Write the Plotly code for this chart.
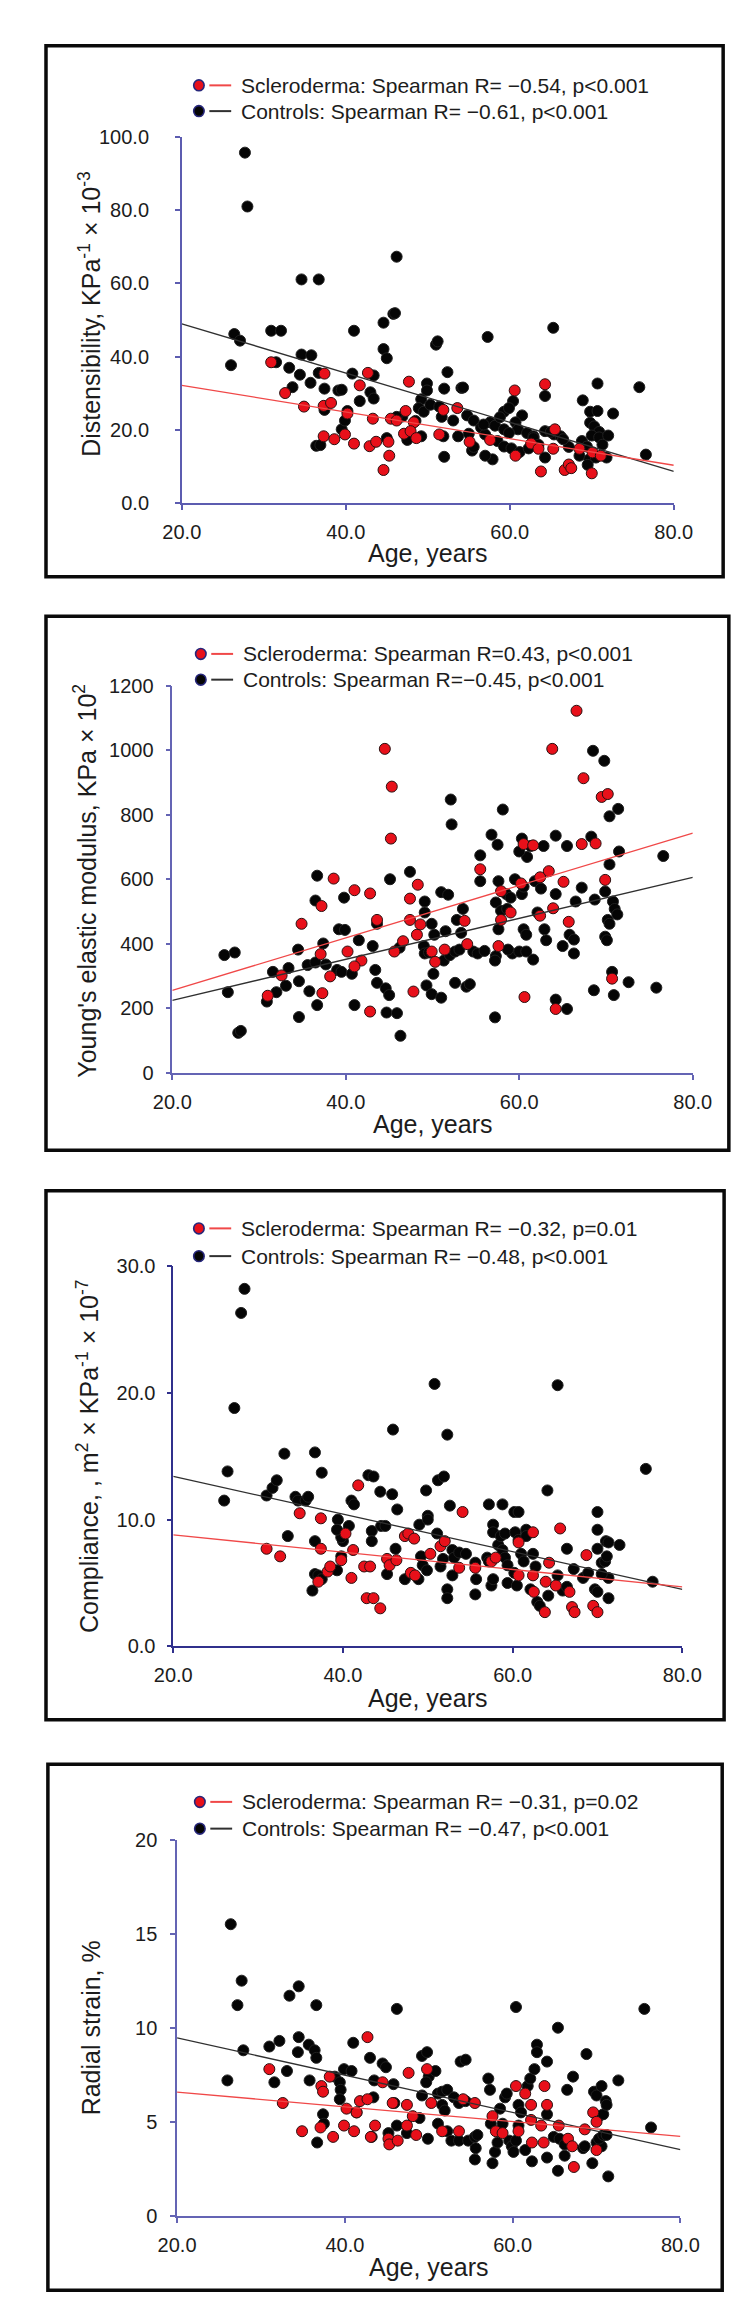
import plotly.graph_objects as go

W, H = 756, 2314
FONT = "Liberation Sans, Arial, Helvetica, sans-serif"

# ---------------- data (age, value) ----------------
# Panel 1: distensibility, KPa^-1 x 10^-3
dist_ctrl = [
    (27.7, 95.7), (28.0, 81.0), (46.2, 67.3), (34.6, 61.1), (36.7, 61.1), (45.8, 51.7),
    (46.0, 51.9), (44.6, 49.3), (65.3, 47.9), (57.3, 45.4), (41.0, 47.1), (30.9, 47.1),
    (32.1, 47.1), (26.4, 46.2), (27.1, 44.4), (51.0, 43.3), (51.2, 44.2), (44.6, 42.1),
    (45.0, 39.6), (34.6, 40.6), (35.8, 40.4), (26.0, 37.7), (31.5, 38.5), (33.1, 37.0),
    (34.4, 35.1), (36.7, 35.6), (40.8, 35.4), (43.4, 34.9), (33.5, 31.7), (35.7, 32.9),
    (37.4, 31.3), (39.1, 30.8), (39.5, 31.0), (43.0, 30.3), (43.4, 28.6), (41.7, 27.9),
    (49.9, 32.7), (49.9, 30.8), (52.0, 31.3), (52.4, 35.8), (54.1, 31.5), (54.3, 31.6),
    (49.2, 28.4), (48.9, 26.0), (49.5, 25.0), (50.3, 26.9), (51.4, 26.4), (51.7, 23.6),
    (53.1, 22.6), (54.8, 24.0), (55.6, 22.6), (56.5, 20.7), (60.4, 27.9), (59.3, 25.0),
    (59.9, 26.0), (61.5, 24.0), (57.6, 22.1), (58.2, 21.2), (60.7, 22.1), (61.0, 20.2),
    (59.3, 20.2), (59.9, 19.2), (57.0, 18.8), (62.1, 19.2), (62.9, 18.3), (64.3, 19.7),
    (65.4, 18.8), (66.2, 18.3), (68.9, 28.1), (70.7, 32.7), (69.8, 25.0), (70.7, 25.2),
    (69.8, 22.0), (70.3, 21.0), (70.9, 19.5), (70.0, 18.5), (70.9, 18.0), (72.6, 24.5),
    (75.8, 31.7), (76.6, 13.3), (64.3, 29.3), (68.8, 17.0), (69.4, 15.5), (68.5, 13.0),
    (69.7, 12.0), (70.5, 12.5), (67.2, 15.4), (64.3, 12.5), (57.9, 12.0), (57.0, 13.0),
    (55.4, 14.4), (55.6, 15.4), (52.0, 12.7), (58.5, 17.0), (59.3, 15.5), (60.2, 15.0),
    (61.2, 14.0), (62.3, 15.0), (49.2, 18.3), (47.5, 17.3), (45.0, 17.8), (36.4, 15.7),
    (36.9, 15.9), (39.5, 20.2), (39.9, 22.6), (40.2, 25.2), (37.4, 25.5), (46.9, 23.7),
    (46.2, 23.6), (53.7, 18.3), (51.9, 18.3), (62.9, 17.8), (71.3, 16.0), (71.8, 12.5),
    (72.0, 18.5), (69.5, 10.5), (65.0, 19.5), (66.5, 17.5), (63.5, 16.0), (56.8, 21.5),
    (58.8, 23.5), (55.0, 19.0), (48.5, 22.5),
]
dist_scl = [
    (30.9, 38.5), (32.6, 30.1), (34.9, 26.4), (37.4, 35.4), (37.3, 26.6), (38.2, 27.4),
    (37.3, 18.3), (38.6, 17.5), (39.9, 18.8), (40.2, 24.5), (41.0, 16.3), (41.7, 32.2),
    (42.7, 35.6), (42.9, 15.6), (43.3, 23.1), (43.7, 16.8), (44.6, 9.1), (45.3, 13.0),
    (45.2, 16.8), (45.5, 23.1), (46.2, 22.6), (47.3, 25.2), (47.7, 33.2), (48.3, 22.1),
    (47.1, 19.0), (47.9, 19.7), (48.6, 17.8), (51.9, 25.5), (53.6, 26.0), (51.4, 18.8),
    (55.1, 16.8), (57.6, 17.3), (60.6, 30.8), (60.7, 13.0), (62.6, 16.3), (63.5, 14.9),
    (63.8, 8.7), (64.3, 32.5), (65.5, 20.2), (65.3, 14.9), (66.7, 9.1), (67.2, 10.6),
    (67.5, 9.6), (68.5, 14.9), (70.0, 8.2), (70.1, 13.9), (71.1, 13.0),
]
dist_fit_age = [20.0, 80.0]
dist_fit_scl = [32.2, 10.4]
dist_fit_ctrl = [49.0, 8.7]

# Panel 2: Young's elastic modulus, KPa x 10^2
young_ctrl = [
    (26.0, 365), (27.2, 373), (26.4, 250), (27.6, 124), (27.9, 130), (31.6, 313),
    (30.9, 221), (32.0, 250), (33.1, 270), (33.4, 325), (34.5, 382), (34.6, 284),
    (34.6, 173), (35.8, 253), (35.6, 334), (36.7, 210), (36.5, 342), (36.5, 534),
    (36.7, 611), (37.4, 401), (37.7, 336), (39.0, 319), (39.5, 313), (39.2, 445),
    (39.9, 443), (39.8, 543), (40.7, 307), (41.0, 210), (41.5, 411), (43.1, 393),
    (43.4, 319), (43.6, 279), (43.6, 462), (44.6, 262), (45.0, 241), (44.7, 187),
    (45.1, 600), (45.9, 185), (46.3, 115), (46.2, 388), (47.4, 623), (49.1, 531),
    (49.1, 497), (49.0, 393), (49.3, 271), (49.9, 244), (49.1, 370), (49.6, 373),
    (50.1, 307), (49.9, 462), (50.2, 428), (51.0, 233), (51.0, 560), (51.8, 552),
    (52.1, 847), (52.2, 770), (51.5, 439), (51.3, 348), (52.0, 365), (52.6, 376),
    (53.1, 382), (52.6, 279), (52.8, 474), (53.3, 434), (53.5, 508), (53.9, 267),
    (54.3, 275), (54.7, 376), (55.2, 370), (55.5, 674), (55.5, 594), (56.8, 738),
    (57.5, 707), (57.6, 594), (57.3, 362), (57.2, 172), (57.3, 528), (57.6, 445),
    (57.9, 502), (58.1, 816), (58.5, 554), (58.6, 508), (59.0, 543), (59.2, 370),
    (58.7, 382), (59.5, 600), (60.3, 726), (60.9, 669), (60.0, 686), (60.3, 554),
    (60.5, 577), (60.5, 445), (60.8, 428), (60.0, 376), (60.8, 376), (61.6, 351),
    (61.3, 703), (61.8, 594), (62.1, 497), (62.5, 571), (62.8, 703), (62.9, 445),
    (63.1, 411), (64.2, 554), (64.2, 735), (64.2, 227), (65.0, 393), (65.5, 703),
    (65.5, 198), (65.8, 428), (66.3, 413), (66.3, 370), (66.5, 531), (67.2, 574),
    (68.3, 732), (68.6, 256), (68.5, 998), (68.7, 537), (69.8, 967), (69.9, 562),
    (69.9, 422), (70.1, 411), (70.2, 474), (70.4, 462), (70.4, 795), (70.4, 646),
    (70.7, 313), (70.9, 241), (70.8, 531), (71.0, 508), (71.3, 491), (71.4, 818),
    (71.5, 686), (72.6, 281), (75.8, 264), (76.6, 672), (57.2, 348), (56.0, 378),
]
young_scl = [
    (44.5, 1004), (63.8, 1004), (66.6, 1122), (45.3, 887), (67.4, 913), (45.2, 726),
    (69.5, 855), (70.2, 864), (67.2, 709), (68.8, 711), (60.5, 709), (61.6, 705),
    (55.5, 631), (63.4, 625), (62.4, 606), (65.1, 592), (69.9, 598), (57.9, 563),
    (60.2, 587), (38.6, 602), (41.0, 566), (42.8, 556), (48.3, 583), (47.4, 540),
    (37.2, 517), (34.9, 462), (43.6, 474), (47.4, 474), (48.6, 460), (53.7, 471),
    (57.9, 474), (59.0, 497), (63.9, 510), (62.4, 487), (65.7, 468), (48.2, 428),
    (54.0, 399), (57.6, 393), (37.1, 368), (40.2, 376), (46.6, 408), (45.6, 376),
    (49.9, 376), (50.3, 344), (51.4, 382), (41.8, 348), (41.0, 330), (38.2, 299),
    (32.6, 302), (31.0, 239), (37.3, 247), (47.8, 252), (42.8, 190), (60.6, 235),
    (64.2, 198), (70.7, 292),
]
young_fit_age = [20.0, 80.0]
young_fit_scl = [256, 743]
young_fit_ctrl = [225, 606]

# Panel 3: compliance, m^2 x KPa^-1 x 10^-7
comp_ctrl = [
    (28.4, 28.2), (28.0, 26.3), (27.2, 18.8), (26.4, 13.8), (26.0, 11.5), (31.0, 11.9),
    (31.7, 12.5), (32.2, 13.1), (33.1, 15.2), (34.4, 11.8), (34.7, 11.5), (35.6, 11.5),
    (35.9, 11.8), (36.7, 15.3), (37.5, 13.7), (33.5, 8.7), (36.7, 8.3), (36.7, 5.7),
    (37.1, 5.6), (37.5, 5.3), (36.4, 4.4), (39.4, 10.0), (40.0, 8.3), (39.8, 8.6),
    (39.3, 9.2), (39.8, 7.1), (39.3, 6.0), (40.7, 9.5), (41.0, 11.5), (41.3, 11.2),
    (43.0, 13.5), (43.6, 13.4), (43.4, 9.1), (43.4, 8.3), (44.4, 12.2), (44.5, 9.5),
    (45.0, 9.5), (45.8, 12.0), (45.9, 17.1), (46.2, 7.7), (46.4, 10.8), (45.2, 5.7),
    (47.3, 5.3), (48.9, 5.3), (49.2, 7.1), (49.4, 6.4), (49.0, 9.6), (49.8, 12.3),
    (50.0, 10.3), (50.0, 10.0), (49.9, 6.0), (50.8, 20.7), (51.1, 8.9), (51.2, 13.1),
    (51.9, 13.4), (52.3, 16.7), (51.5, 6.3), (51.8, 6.9), (52.9, 7.6), (52.3, 4.5),
    (52.3, 3.8), (52.6, 11.1), (53.1, 7.0), (53.7, 7.4), (54.5, 7.3), (52.9, 5.6),
    (55.6, 4.1), (55.7, 5.3), (55.6, 6.6), (57.0, 7.0), (57.2, 6.7), (57.2, 11.2),
    (57.7, 9.6), (57.7, 9.0), (57.5, 4.8), (57.7, 5.3), (58.3, 8.0), (58.8, 7.6),
    (58.6, 8.7), (59.1, 8.9), (58.8, 11.2), (59.1, 7.0), (59.4, 6.4), (59.4, 5.0),
    (60.2, 10.6), (60.7, 10.6), (60.3, 9.0), (60.7, 8.4), (60.2, 5.8), (60.5, 4.8),
    (61.0, 7.3), (61.3, 6.7), (61.6, 9.2), (61.6, 8.7), (62.1, 4.5), (62.4, 7.3),
    (62.7, 6.3), (62.9, 3.5), (63.2, 3.2), (64.1, 12.3), (64.2, 4.0), (65.3, 20.6),
    (65.3, 5.6), (65.9, 4.4), (66.4, 7.7), (66.4, 4.7), (67.2, 6.1), (68.3, 5.4),
    (68.9, 5.8), (70.0, 10.6), (70.0, 9.2), (70.0, 7.7), (69.7, 4.5), (70.0, 4.3),
    (70.5, 6.6), (70.9, 6.7), (71.0, 8.3), (71.3, 8.2), (71.1, 7.1), (71.3, 5.4),
    (71.3, 3.8), (70.5, 5.7), (72.6, 8.0), (75.7, 14.0), (76.5, 5.1),
]
comp_scl = [
    (34.9, 10.5), (31.0, 7.7), (32.6, 7.1), (37.4, 10.1), (37.4, 7.7), (37.1, 5.1),
    (38.2, 5.9), (38.5, 6.3), (39.8, 6.8), (40.3, 8.9), (41.2, 7.6), (41.0, 5.4),
    (41.8, 12.7), (42.5, 6.3), (43.2, 6.3), (42.8, 3.8), (43.6, 3.8), (44.4, 3.0),
    (45.2, 6.9), (45.5, 6.4), (46.3, 6.8), (47.3, 8.7), (47.7, 8.9), (48.4, 8.5),
    (48.0, 5.8), (48.5, 5.6), (50.3, 7.3), (51.5, 7.9), (52.0, 8.3), (54.1, 10.6),
    (53.7, 6.2), (55.6, 6.2), (57.5, 6.7), (58.0, 7.0), (60.7, 8.2), (60.7, 5.6),
    (62.4, 9.0), (62.4, 5.6), (62.5, 4.3), (63.9, 5.1), (63.8, 2.7), (64.3, 6.6),
    (65.6, 9.3), (65.1, 4.8), (66.7, 4.3), (67.0, 3.1), (67.3, 2.7), (68.7, 7.2),
    (69.5, 3.2), (70.0, 2.7),
]
comp_fit_age = [20.0, 80.0]
comp_fit_scl = [8.8, 4.7]
comp_fit_ctrl = [13.4, 4.5]

# Panel 4: radial strain, %
strain_ctrl = [
    (26.4, 15.5), (27.2, 11.2), (27.7, 12.5), (27.9, 8.8), (26.0, 7.2), (31.0, 9.0),
    (32.2, 9.3), (31.6, 7.1), (33.1, 7.7), (33.4, 11.7), (34.5, 12.2), (34.5, 9.5),
    (34.4, 8.7), (35.7, 9.1), (35.8, 7.2), (36.4, 8.8), (36.6, 8.4), (36.6, 11.2),
    (37.4, 5.4), (37.5, 4.9), (36.7, 3.9), (38.8, 7.4), (39.4, 7.1), (39.5, 6.7),
    (39.4, 6.2), (39.9, 7.8), (40.8, 7.7), (41.0, 9.2), (41.4, 5.5), (43.0, 8.4),
    (43.4, 6.3), (43.5, 7.2), (43.2, 4.2), (44.5, 8.1), (44.9, 7.9), (45.2, 4.4),
    (45.8, 7.0), (46.2, 11.0), (45.9, 6.0), (46.2, 4.8), (47.4, 4.4), (48.9, 5.2),
    (49.2, 6.4), (49.2, 8.5), (49.8, 8.7), (50.0, 7.4), (49.7, 7.1), (49.9, 4.1),
    (50.8, 7.7), (51.1, 6.5), (51.6, 6.6), (51.1, 4.9), (51.6, 5.9), (51.9, 5.6),
    (52.2, 6.7), (52.2, 4.5), (52.7, 4.0), (53.0, 6.3), (53.6, 6.0), (53.8, 8.2),
    (54.4, 8.3), (54.4, 6.1), (53.6, 4.0), (54.7, 4.0), (55.5, 4.2), (55.6, 3.6),
    (55.5, 3.0), (55.8, 4.3), (57.1, 7.3), (57.3, 6.7), (57.4, 4.9), (57.6, 2.8),
    (57.9, 3.4), (58.2, 3.9), (58.5, 5.7), (58.8, 4.9), (59.1, 6.3), (59.3, 6.5),
    (59.6, 4.0), (59.9, 3.7), (60.1, 3.4), (60.4, 4.0), (60.4, 11.1), (60.7, 5.9),
    (61.0, 5.5), (60.7, 4.8), (61.5, 3.5), (61.8, 6.9), (62.1, 7.3), (62.3, 2.9),
    (62.6, 7.8), (62.9, 9.1), (62.9, 8.7), (64.1, 8.2), (64.1, 5.4), (64.1, 3.1),
    (64.9, 4.2), (65.4, 10.0), (65.4, 2.4), (65.6, 4.1), (66.2, 3.8), (66.2, 3.2),
    (66.5, 6.7), (67.2, 7.4), (68.4, 3.6), (68.6, 3.7), (68.8, 8.6), (69.5, 2.8),
    (69.7, 6.6), (70.0, 6.4), (70.6, 6.9), (70.3, 5.3), (70.8, 5.4), (70.0, 3.9),
    (70.6, 3.7), (70.3, 4.1), (70.8, 4.3), (71.1, 6.1), (71.2, 5.9), (71.4, 2.1),
    (71.2, 4.3), (72.6, 7.2), (75.7, 11.0), (76.5, 4.7),
]
strain_scl = [
    (42.7, 9.5), (31.0, 7.8), (32.6, 6.0), (34.9, 4.5), (37.2, 6.9), (37.4, 6.6),
    (37.1, 4.7), (38.2, 7.4), (38.6, 4.2), (39.9, 4.8), (40.2, 5.7), (41.1, 4.5),
    (41.4, 5.5), (41.8, 6.1), (42.7, 6.2), (43.1, 4.2), (43.6, 4.8), (44.5, 7.1),
    (45.2, 4.1), (45.3, 3.8), (46.3, 4.0), (45.7, 6.0), (47.4, 5.9), (47.6, 7.6),
    (47.4, 4.8), (48.1, 5.3), (48.5, 4.3), (49.8, 7.8), (50.3, 6.0), (51.6, 4.5),
    (53.6, 4.5), (54.1, 6.2), (55.5, 6.0), (57.6, 5.3), (58.0, 4.5), (58.8, 4.4),
    (60.4, 6.9), (60.7, 4.5), (61.5, 6.5), (62.2, 5.9), (62.2, 5.1), (62.3, 3.9),
    (63.7, 3.9), (63.4, 4.8), (63.8, 6.9), (64.1, 5.9), (65.5, 4.8), (66.6, 4.1),
    (67.1, 3.7), (67.3, 2.6), (68.6, 4.6), (69.6, 5.5), (70.0, 5.0), (70.0, 3.5),
]
strain_fit_age = [20.0, 80.0]
strain_fit_scl = [6.58, 4.23]
strain_fit_ctrl = [9.46, 3.52]

x_ticks = [20, 40, 60, 80]

panels = [
    dict(ctrl=dist_ctrl, scl=dist_scl, fx=dist_fit_age, fs=dist_fit_scl, fc=dist_fit_ctrl,
         yticks=[0, 20, 40, 60, 80, 100], yfmt=".1f",
         ytitle="Distensibility, KPa<sup>-1</sup> × 10<sup>-3</sup>",
         leg=["Scleroderma: Spearman R= −0.54, p&lt;0.001", "Controls: Spearman R= −0.61, p&lt;0.001"],
         box=(20, 27, 733, 563), ax=(163, 681, 119, 489), ystand=22,
         legy=(67, 93), legx=181, tx=66, ty=298, xty=539, acol="#5c5cb0"),
    dict(ctrl=young_ctrl, scl=young_scl, fx=young_fit_age, fs=young_fit_scl, fc=young_fit_ctrl,
         yticks=[0, 200, 400, 600, 800, 1000, 1200], yfmt="d",
         ytitle="Young's elastic modulus, KPa × 10<sup>2</sup>",
         leg=["Scleroderma: Spearman R=0.43, p&lt;0.001", "Controls: Spearman R=−0.45, p&lt;0.001"],
         box=(20, 603, 739, 1142), ax=(153, 701, 673, 1064), ystand=8,
         legy=(641, 667), legx=183, tx=61, ty=870, xty=1116, acol="#6464b4"),
    dict(ctrl=comp_ctrl, scl=comp_scl, fx=comp_fit_age, fs=comp_fit_scl, fc=comp_fit_ctrl,
         yticks=[0, 10, 20, 30], yfmt=".1f",
         ytitle="Compliance, , m<sup>2</sup> × KPa<sup>-1</sup> × 10<sup>-7</sup>",
         leg=["Scleroderma: Spearman R= −0.32, p=0.01", "Controls: Spearman R= −0.48, p&lt;0.001"],
         box=(20, 1183, 734, 1717), ax=(154, 690, 1259, 1643), ystand=7,
         legy=(1221, 1249), legx=181, tx=64, ty=1451, xty=1695, acol="#30308c"),
    dict(ctrl=strain_ctrl, scl=strain_scl, fx=strain_fit_age, fs=strain_fit_scl, fc=strain_fit_ctrl,
         yticks=[0, 5, 10, 15, 20], yfmt="d",
         ytitle="Radial strain, %",
         leg=["Scleroderma: Spearman R= −0.31, p=0.02", "Controls: Spearman R= −0.47, p&lt;0.001"],
         box=(22, 1762, 732, 2293), ax=(158, 688, 1838, 2218), ystand=9,
         legy=(1800, 1827), legx=182, tx=67, ty=2028, xty=2270, acol="#6464b4"),
]


def fx_(p):
    return p / W


def fy_(p):
    return 1 - p / H


fig = go.Figure()
shapes, annotations = [], []
layout = {}

for i, p in enumerate(panels, start=1):
    sfx = "" if i == 1 else str(i)
    xa, ya = "x" + sfx, "y" + sfx
    x0, x1, ytop_px, y0_px = p["ax"]
    ymax = p["yticks"][-1]

    # controls first, scleroderma above, fitted lines on top
    fig.add_trace(go.Scatter(
        x=[a for a, _ in p["ctrl"]], y=[v for _, v in p["ctrl"]], mode="markers",
        marker=dict(size=11, color="#050505", line=dict(color="#202020", width=1)),
        xaxis=xa, yaxis=ya, showlegend=False, hoverinfo="x+y"))
    fig.add_trace(go.Scatter(
        x=[a for a, _ in p["scl"]], y=[v for _, v in p["scl"]], mode="markers",
        marker=dict(size=11, color="#e8101a", line=dict(color="#2a1010", width=1)),
        xaxis=xa, yaxis=ya, showlegend=False, hoverinfo="x+y"))
    fig.add_trace(go.Scatter(
        x=p["fx"], y=p["fc"], mode="lines", line=dict(color="#303030", width=1.3),
        xaxis=xa, yaxis=ya, showlegend=False, hoverinfo="skip"))
    fig.add_trace(go.Scatter(
        x=p["fx"], y=p["fs"], mode="lines", line=dict(color="#f04848", width=1.3),
        xaxis=xa, yaxis=ya, showlegend=False, hoverinfo="skip"))

    axis_common = dict(showline=True, linecolor=p["acol"], linewidth=1.5, ticks="outside",
                       ticklen=5, tickwidth=1.5, tickcolor=p["acol"], showgrid=False,
                       zeroline=False, tickfont=dict(family=FONT, size=20, color="#1c1c1c"))
    layout["xaxis" + sfx] = dict(axis_common, domain=[fx_(x0), fx_(x1)], range=[20, 80],
                                 anchor=ya, tickvals=x_ticks, tickformat=".1f",
                                 ticklabelstandoff=5)
    layout["yaxis" + sfx] = dict(axis_common, domain=[fy_(y0_px), fy_(ytop_px)],
                                 range=[0, ymax], anchor=xa, tickvals=p["yticks"],
                                 tickformat=p["yfmt"], ticklabelstandoff=p["ystand"])

    # frame around the panel
    bx0, by0, bx1, by1 = p["box"]
    shapes.append(dict(type="rect", xref="paper", yref="paper", x0=fx_(bx0), x1=fx_(bx1),
                       y0=fy_(by1), y1=fy_(by0), line=dict(color="#0a0a0a", width=3.5)))

    # hand-made legend: dot, short line, text
    for row, (fill, lcol, txt) in enumerate([("#e8101a", "#f04848", p["leg"][0]),
                                             ("#050505", "#303030", p["leg"][1])]):
        cy = p["legy"][row]
        cx = p["legx"]
        shapes.append(dict(type="circle", xref="paper", yref="paper",
                           x0=fx_(cx - 5.5), x1=fx_(cx + 5.5), y0=fy_(cy + 5.5), y1=fy_(cy - 5.5),
                           fillcolor=fill, line=dict(color="#26267a", width=1.6)))
        shapes.append(dict(type="line", xref="paper", yref="paper",
                           x0=fx_(cx + 11), x1=fx_(cx + 34), y0=fy_(cy), y1=fy_(cy),
                           line=dict(color=lcol, width=2)))
        annotations.append(dict(xref="paper", yref="paper", x=fx_(cx + 42), y=fy_(cy),
                                xanchor="left", yanchor="middle", showarrow=False, text=txt,
                                font=dict(family=FONT, size=21, color="#1c1c1c")))

    annotations.append(dict(xref="paper", yref="paper", x=fx_(p["tx"]), y=fy_(p["ty"]),
                            xanchor="center", yanchor="middle", showarrow=False, textangle=-90,
                            text=p["ytitle"], font=dict(family=FONT, size=25, color="#1c1c1c")))
    annotations.append(dict(xref="paper", yref="paper", x=fx_((x0 + x1) / 2), y=fy_(p["xty"]),
                            xanchor="center", yanchor="middle", showarrow=False,
                            text="Age, years", font=dict(family=FONT, size=25, color="#1c1c1c")))

fig.update_layout(
    width=W, height=H,
    margin=dict(l=0, r=0, t=0, b=0),
    paper_bgcolor="white", plot_bgcolor="white",
    shapes=shapes, annotations=annotations,
    font=dict(family=FONT),
    **layout,
)

fig.write_html("out.html")
